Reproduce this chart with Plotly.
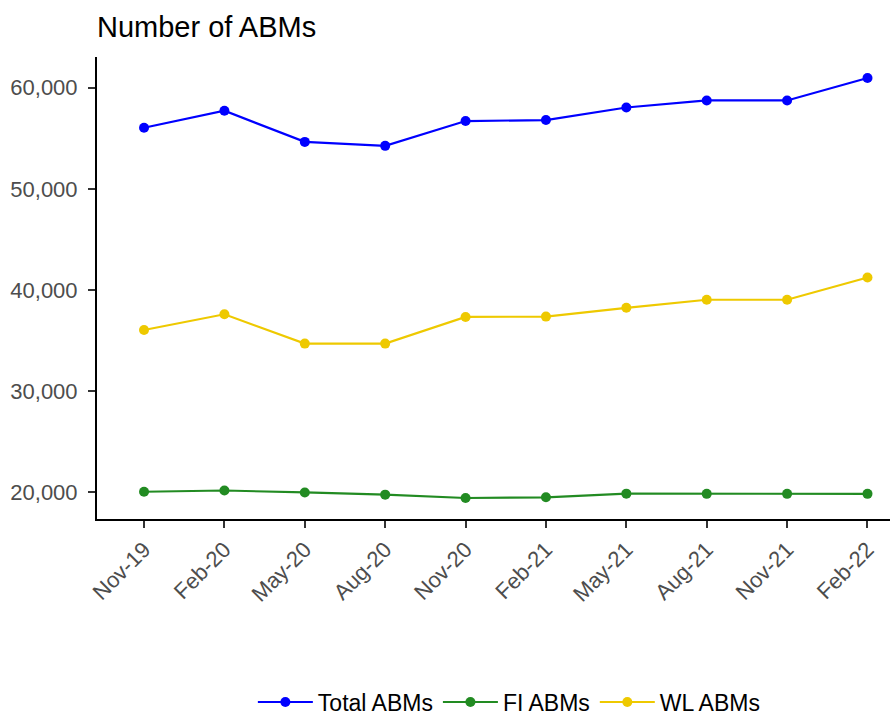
import plotly.graph_objects as go

months = ["Nov-19", "Feb-20", "May-20", "Aug-20", "Nov-20", "Feb-21", "May-21", "Aug-21", "Nov-21", "Feb-22"]
total_abms = [56040, 57720, 54640, 54250, 56700, 56800, 58040, 58740, 58740, 60960]
fi_abms = [20040, 20160, 19970, 19750, 19420, 19490, 19850, 19830, 19830, 19830]
wl_abms = [36040, 37590, 34690, 34690, 37330, 37360, 38230, 39030, 39030, 41230]

series = [
    ("Total ABMs", total_abms, "#0000FF"),
    ("FI ABMs", fi_abms, "#228B22"),
    ("WL ABMs", wl_abms, "#EEC900"),
]

FONT = "Liberation Sans, Arial, sans-serif"
H = 728

fig = go.Figure()
for name, vals, col in series:
    fig.add_trace(go.Scatter(
        x=list(range(len(months))), y=vals, name=name, mode="lines+markers",
        line=dict(color=col, width=2.2), marker=dict(color=col, size=10),
    ))

fig.update_layout(
    width=895, height=H,
    paper_bgcolor="white", plot_bgcolor="white",
    margin=dict(l=97, r=5, t=57, b=H - 529),
    font=dict(family=FONT, size=22, color="#000000"),
    title=dict(text="Number of ABMs", x=97/895, xanchor="left", xref="container",
               y=1-27/H, yanchor="middle", yref="container",
               font=dict(family=FONT, size=29, color="#000000")),
    legend=dict(orientation="h", x=0.52, xanchor="center", y=-(716-529)/472, yanchor="middle",
                font=dict(family=FONT, size=23, color="#000000"), itemwidth=55),
    xaxis=dict(
        range=[-0.585, 9.28], tickmode="array", tickvals=list(range(len(months))), ticktext=months,
        tickangle=-45, showgrid=False, zeroline=False, showline=True, linecolor="#000000", linewidth=2,
        ticks="outside", ticklen=7, tickwidth=2, tickcolor="#333333", automargin=False,
        tickfont=dict(family=FONT, size=22, color="#4D4D4D"),
    ),
    yaxis=dict(
        range=[17343, 63037], tickvals=[20000, 30000, 40000, 50000, 60000], tickformat=",",
        showgrid=False, zeroline=False, showline=True, linecolor="#000000", linewidth=2,
        ticks="outside", ticklen=7, tickwidth=2, tickcolor="#333333", automargin=False,
        ticklabelstandoff=6,
        tickfont=dict(family=FONT, size=22, color="#4D4D4D"),
    ),
)

fig.write_html(
    "out.html",
    config={"displayModeBar": False},
    post_script="document.body.style.margin='0';document.body.style.overflow='hidden';",
)
